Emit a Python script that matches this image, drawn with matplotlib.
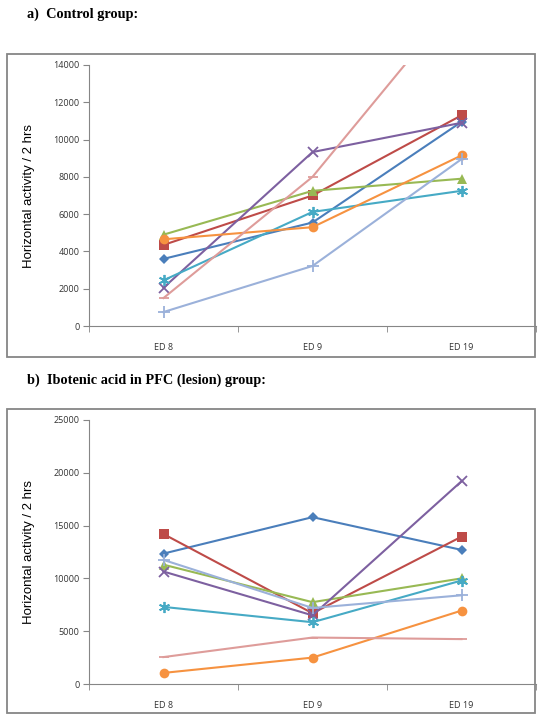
import matplotlib
matplotlib.use("Agg")
import matplotlib.pyplot as plt
from matplotlib.patches import Rectangle

days = ["ED 8", "ED 9", "ED 19"]

# control group
ctrl_blue = [3600, 5550, 10950]
ctrl_red = [4350, 7000, 11300]
ctrl_green = [4900, 7250, 7900]
ctrl_purple = [2050, 9330, 10900]
ctrl_aqua = [2450, 6120, 7250]
ctrl_orange = [4650, 5300, 9150]
ctrl_lblue = [750, 3220, 8950]
ctrl_pink = [1500, 8000, 17700]

# lesion group
les_blue = [12350, 15800, 12700]
les_red = [14200, 6700, 13950]
les_green = [11300, 7750, 10000]
les_purple = [10650, 6500, 19200]
les_aqua = [7300, 5850, 9800]
les_orange = [1050, 2500, 6950]
les_lblue = [11750, 7200, 8400]
les_pink = [2550, 4400, 4250]

styles = [
    ("#4A7EBB", "D", 5),
    ("#BE4B48", "s", 7),
    ("#98B954", "^", 7),
    ("#7D60A0", "x", 7),
    ("#46AAC5", (6, 2, 0), 8),
    ("#F69240", "o", 7),
    ("#9BB1DA", "+", 8),
    ("#DE9C9A", "_", 7),
]

ctrl = [ctrl_blue, ctrl_red, ctrl_green, ctrl_purple, ctrl_aqua, ctrl_orange, ctrl_lblue, ctrl_pink]
les = [les_blue, les_red, les_green, les_purple, les_aqua, les_orange, les_lblue, les_pink]

W, H = 543, 721
fig = plt.figure(figsize=(W / 100, H / 100), dpi=100)
gray = "#868686"


def px(l, t, r, b):
    return [l / W, 1 - b / H, (r - l) / W, (b - t) / H]


def panel(rect, box, series, ymax, ystep):
    # outer chart border
    fig.patches.append(Rectangle((box[0] / W, 1 - box[3] / H), (box[2] - box[0]) / W,
                                 (box[3] - box[1]) / H, transform=fig.transFigure,
                                 fill=False, edgecolor=gray, lw=1.3))
    ax = fig.add_axes(px(*rect))
    x = list(range(len(days)))
    for vals, (c, m, ms) in zip(series, styles):
        mew = 1.3 if m in ("x", "+", "_") or isinstance(m, tuple) else 0
        ax.plot(x, vals, color=c, lw=1.5, marker=m, ms=ms, mfc=c, mec=c, mew=mew)
    ax.set_xlim(-0.5, 2.5)
    ax.set_ylim(0, ymax)
    ax.set_yticks(range(0, ymax + 1, ystep))
    ax.set_xticks(x)
    ax.set_xticklabels(days)
    ax.set_xticks([-0.5, 0.5, 1.5, 2.5], minor=True)
    ax.tick_params(axis="x", which="major", length=0, pad=12, labelsize=6.5, colors="#333333")
    ax.tick_params(axis="x", which="minor", length=4, direction="out", color=gray)
    ax.tick_params(axis="y", length=4, color=gray, labelsize=6.5, labelcolor="#333333", pad=3)
    for s in ("top", "right"):
        ax.spines[s].set_visible(False)
    for s in ("left", "bottom"):
        ax.spines[s].set_color(gray)
    ax.set_ylabel("Horizontal activity / 2 hrs", fontsize=9.5, labelpad=13, family="Liberation Sans")
    for lab in ax.get_xticklabels() + ax.get_yticklabels():
        lab.set_family("Open Sans")
    return ax


panel((89, 65, 536, 326), (7, 54, 535, 357), ctrl, 14000, 2000)
panel((89, 420, 536, 684), (7, 409, 535, 713), les, 25000, 5000)

fig.text(27 / W, 1 - 14 / H, "a)  Control group:", family="Liberation Serif",
         weight="bold", fontsize=10.3, va="center", ha="left")
fig.text(27 / W, 1 - 380 / H, "b)  Ibotenic acid in PFC (lesion) group:", family="Liberation Serif",
         weight="bold", fontsize=10.3, va="center", ha="left")

fig.savefig("out.png", dpi=100)
